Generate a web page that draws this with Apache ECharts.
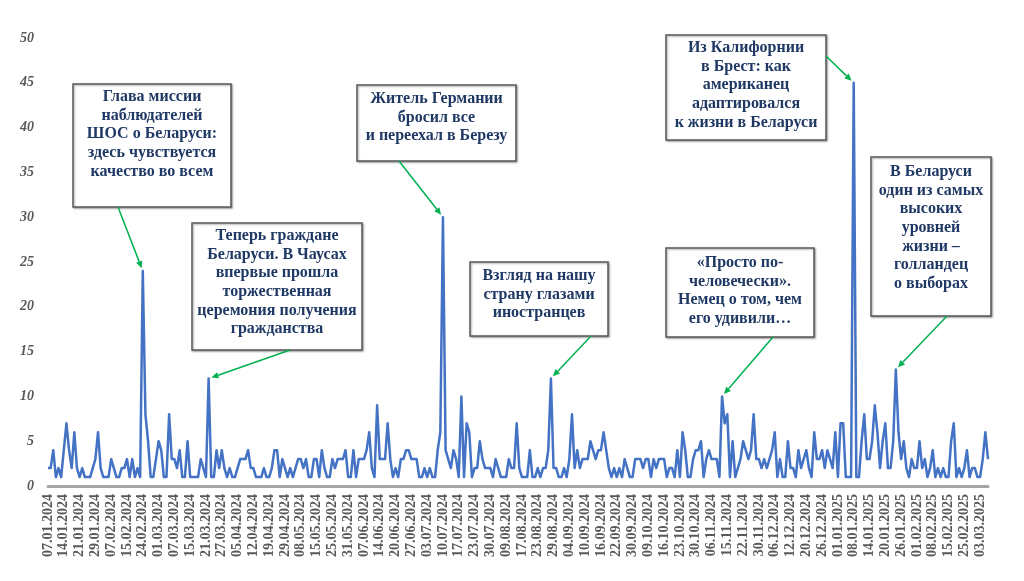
<!DOCTYPE html>
<html>
<head>
<meta charset="utf-8">
<script src="https://cdn.jsdelivr.net/npm/echarts@6/dist/echarts.min.js"></script>
<style>
html,body{margin:0;padding:0;background:#fff;}
#c{width:1024px;height:581px;}
</style>
</head>
<body>
<div id="c"></div>
<script>
// Tick labels shown on the x axis (every 6th category)
const tickLabels = ['07.01.2024','14.01.2024','21.01.2024','29.01.2024','07.02.2024','15.02.2024','24.02.2024','01.03.2024','07.03.2024','15.03.2024','21.03.2024','27.03.2024','05.04.2024','12.04.2024','19.04.2024','29.04.2024','08.05.2024','15.05.2024','25.05.2024','31.05.2024','07.06.2024','14.06.2024','20.06.2024','27.06.2024','03.07.2024','10.07.2024','17.07.2024','23.07.2024','30.07.2024','09.08.2024','17.08.2024','23.08.2024','29.08.2024','04.09.2024','10.09.2024','16.09.2024','22.09.2024','30.09.2024','09.10.2024','16.10.2024','23.10.2024','30.10.2024','06.11.2024','15.11.2024','22.11.2024','30.11.2024','06.12.2024','12.12.2024','20.12.2024','26.12.2024','01.01.2025','08.01.2025','14.01.2025','20.01.2025','26.01.2025','01.02.2025','08.02.2025','15.02.2025','25.02.2025','03.03.2025'];

// Daily values
const values = [
2,2,4,1,2,1,4,7,4,2,
6,2,1,2,1,1,1,2,3,6,
2,1,1,1,3,2,1,1,2,2,
3,1,3,1,2,1,24,8,5,1,
1,3,5,4,1,1,8,3,3,2,
4,1,1,5,1,1,1,1,3,2,
1,12,1,1,4,2,4,2,1,2,
1,1,2,3,3,3,4,2,2,1,
1,1,2,1,1,2,4,4,1,3,
2,1,2,1,2,3,3,2,3,1,
1,3,3,1,4,2,1,1,3,2,
3,3,3,4,1,1,4,1,3,3,
3,4,6,2,1,9,3,3,3,7,
3,1,2,1,3,3,4,4,3,3,
3,1,1,2,1,2,1,1,4,6,
30,4,3,2,4,3,1,10,1,7,
6,1,2,2,5,3,2,2,2,1,
3,2,1,1,1,3,2,2,7,2,
1,1,1,4,1,1,2,1,2,2,
4,12,2,2,1,1,2,1,3,8,
2,4,2,3,3,3,5,4,3,4,
4,6,4,2,1,2,1,2,1,3,
2,1,1,3,3,3,2,3,3,1,
3,2,3,3,3,1,2,2,1,4,
1,6,4,1,1,3,4,4,5,1,
3,4,3,3,3,1,10,7,8,1,
5,1,2,3,5,4,3,4,8,3,
3,2,3,2,3,4,6,1,3,1,
1,5,2,2,1,4,2,3,4,2,
1,6,3,3,4,2,4,3,2,6,
1,7,7,1,1,1,45,1,1,5,
8,3,3,5,9,6,2,5,7,2,
2,5,13,6,3,5,2,1,3,2,
2,5,2,3,1,2,4,1,2,1,
2,1,1,5,7,1,2,1,2,4,
1,2,2,1,1,3,6,3
];

// Annotation texts and the category index each one points to
const noteTexts = [
  'Глава миссии\nнаблюдателей\nШОС о Беларуси:\nздесь чувствуется\nкачество во всем',
  'Теперь граждане\nБеларуси. В Чаусах\nвпервые прошла\nторжественная\nцеремония получения\nгражданства',
  'Житель Германии\nбросил все\nи переехал в Березу',
  'Взгляд на нашу\nстрану глазами\nиностранцев',
  'Из Калифорнии\nв Брест: как\nамериканец\nадаптировался\nк жизни в Беларуси',
  'В Беларуси\nодин из самых\nвысоких\nуровней\nжизни –\nголландец\nо выборах',
  '«Просто по-\nчеловечески».\nНемец о том, чем\nего удивили…'
];
const noteTargets = [36, 61, 150, 191, 306, 322, 256];

// Layout of the boxes (pixels): x, y, w, h, first line centre, arrow start
const noteLayout = [
  {x:73,  y:84,  w:158, h:123, t:97,  sx:118, sy:207},
  {x:192, y:223, w:170, h:127, t:236, sx:290, sy:350},
  {x:357, y:85,  w:159, h:76,  t:99,  sx:399, sy:161},
  {x:470, y:262, w:138, h:74,  t:276, sx:591, sy:336},
  {x:666, y:35,  w:160, h:105, t:48,  sx:826, sy:56},
  {x:871, y:157, w:120, h:159, t:172, sx:947, sy:316},
  {x:666, y:248, w:148, h:89,  t:263, sx:773, sy:337}
];

// Build the category list: labelled dates every 6th slot, dates in between spread evenly
function parseD(s){const p=s.split('.');return Date.UTC(+p[2],+p[1]-1,+p[0]);}
function fmt(t){const d=new Date(t);const dd=String(d.getUTCDate()).padStart(2,'0');const mm=String(d.getUTCMonth()+1).padStart(2,'0');return dd+'.'+mm+'.'+d.getUTCFullYear();}
const DAY=86400000;
const categories=[];
for(let j=0;j<tickLabels.length;j++){
  categories.push(tickLabels[j]);
  const a=parseD(tickLabels[j]);
  const b=j+1<tickLabels.length?parseD(tickLabels[j+1]):a+6*DAY;
  const g=Math.round((b-a)/DAY);
  for(let k=1;k<6;k++){
    if(categories.length>=values.length)break;
    categories.push(fmt(a+Math.round(k*g/6)*DAY));
  }
  if(categories.length>=values.length)break;
}

const chart=echarts.init(document.getElementById('c'),null,{renderer:'canvas'});
const SERIF='"Liberation Serif","Times New Roman",serif';
chart.setOption({
  animation:false,
  backgroundColor:'#ffffff',
  grid:{left:48,right:36,top:38,bottom:95,containLabel:false,outerBoundsMode:'none'},
  xAxis:{
    type:'category',
    data:categories,
    boundaryGap:false,
    axisLine:{show:true,lineStyle:{color:'#a6a6a6',width:3}},
    axisTick:{show:false},
    splitLine:{show:false},
    axisLabel:{interval:5,rotate:90,margin:8,color:'#595959',fontFamily:SERIF,fontWeight:'bold',fontSize:14}
  },
  yAxis:{
    type:'value',min:0,max:50,interval:5,
    axisLine:{show:false},axisTick:{show:false},splitLine:{show:false},
    axisLabel:{margin:14,color:'#595959',fontFamily:SERIF,fontStyle:'italic',fontWeight:'bold',fontSize:14}
  },
  series:[{
    type:'line',data:values,symbol:'none',
    lineStyle:{color:'#4472C4',width:2.5,join:'round'},
    itemStyle:{color:'#4472C4'}
  }]
});

// Annotations
const graphics=[];
const LH=18.6;
noteTexts.forEach((txt,i)=>{
  const L=noteLayout[i];
  graphics.push({type:'rect',z:100,shape:{x:L.x,y:L.y,width:L.w,height:L.h},
    style:{fill:'#ffffff',stroke:'#595959',lineWidth:1.5,shadowBlur:2,shadowColor:'rgba(0,0,0,0.35)',shadowOffsetX:1,shadowOffsetY:1}});
  graphics.push({type:'text',z:101,style:{x:L.x+L.w/2,y:L.t-LH/2,text:txt,align:'center',verticalAlign:'top',
    fontFamily:SERIF,fontWeight:'bold',fontSize:16,lineHeight:LH,fill:'#1f3864'}});
  const idx=noteTargets[i];
  const p=chart.convertToPixel({seriesIndex:0},[idx,values[idx]]);
  let dx=p[0]-L.sx, dy=p[1]-L.sy; const len=Math.sqrt(dx*dx+dy*dy); dx/=len; dy/=len;
  const tip=[p[0]-dx*3,p[1]-dy*3];
  const hl=7, hw=3.2;
  const base=[tip[0]-dx*hl,tip[1]-dy*hl];
  graphics.push({type:'line',z:102,shape:{x1:L.sx,y1:L.sy,x2:base[0],y2:base[1]},style:{stroke:'#00b050',lineWidth:1.5}});
  graphics.push({type:'polygon',z:102,shape:{points:[tip,[base[0]-dy*hw,base[1]+dx*hw],[base[0]+dy*hw,base[1]-dx*hw]]},style:{fill:'#00b050'}});
});
chart.setOption({graphic:graphics});
</script>
</body>
</html>
